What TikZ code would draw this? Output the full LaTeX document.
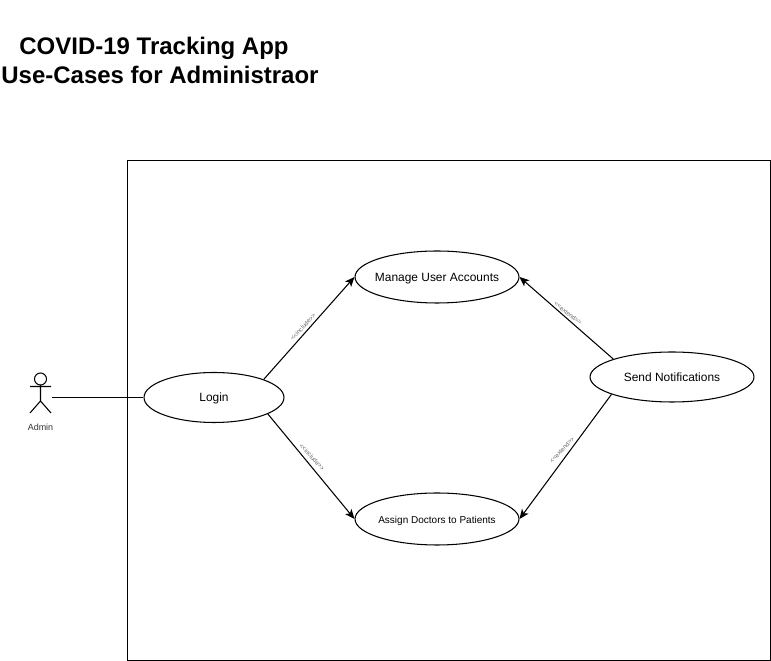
\documentclass[tikz,border=0pt]{standalone}
\usepackage{fontspec}
\setmainfont{Liberation Sans}
\usetikzlibrary{shapes.geometric,arrows.meta}
\newcommand{\casetext}[1]{\makebox[0pt]{\raisebox{-2.3pt}[0pt][0pt]{#1}}}
\tikzset{
  usecase/.style={draw, ellipse, line width=0.6pt, inner sep=0pt, font=\fontsize{6.8}{8}\selectfont},
  titleline/.style={font=\fontsize{13.65}{16}\selectfont\bfseries, inner sep=0pt},
  assoc/.style={line width=0.6pt},
  dep/.style={line width=0.6pt, -{Stealth[length=5.5pt,width=4.6pt,inset=1.4pt]}},
  stereo/.style={font=\fontsize{3.5}{4}\selectfont, text=black!60, inner sep=0pt}
}
\begin{document}
\begin{tikzpicture}[x=0.02cm,y=-0.02cm]
        \useasboundingbox (0,0) rectangle (771,661);
        \node[titleline] (titletop) at (154,48) {COVID-19 Tracking App};
        \node[titleline] (titlebottom) at (160,75) {Use-Cases for Administraor};
        \draw[line width=0.6pt] (127.5,160.5) rectangle (770.5,660.5);
        % use cases
        \node[usecase, minimum width=3.28cm, minimum height=1.04cm] (manage) at (437,277) {\casetext{Manage User Accounts}};
        \node[usecase, minimum width=2.8cm, minimum height=1cm] (login) at (214,397.5) {\casetext{Login}};
        \node[usecase, minimum width=3.28cm, minimum height=1cm] (notify) at (672,377) {\casetext{Send Notifications}};
        \node[usecase, minimum width=3.28cm, minimum height=1.04cm, font=\fontsize{5.7}{8}\selectfont] (assign) at (437,519) {\casetext{Assign Doctors to Patients}};
        % actor
        \node[inner sep=0pt, minimum width=0.44cm, minimum height=0.8cm] (admin) at (40.5,397.5) {};
        \draw[line width=0.6pt] (40.5,379) circle (6);
        \draw[line width=0.6pt] (40.5,385) -- (40.5,401) (30,386.5) -- (51,386.5) (30,413) -- (40.5,401) -- (51,413);
        \node[font=\fontsize{5.1}{6}\selectfont, text=black!80, inner sep=0pt] (adminlabel) at (40.5,427) {Admin};
        % connectors
        \draw[assoc] (admin.east) -- (login.west);
        \draw[dep] (login.20) -- (manage.west);
        \draw[dep] (login.-17) -- (assign.west);
        \draw[dep] (notify.163.6) -- (manage.east);
        \draw[dep] (notify.196.4) -- (assign.east);
        \node[stereo, rotate=47] (inc1) at (303,327) {<{}<include>{}>};
        \node[stereo, rotate=-47] (inc2) at (312,457) {<{}<include>{}>};
        \node[stereo, rotate=-38] (ext1) at (568,313) {<{}<extend>{}>};
        \node[stereo, rotate=47] (ext2) at (562,450) {<{}<extend>{}>};
\end{tikzpicture}
\end{document}
